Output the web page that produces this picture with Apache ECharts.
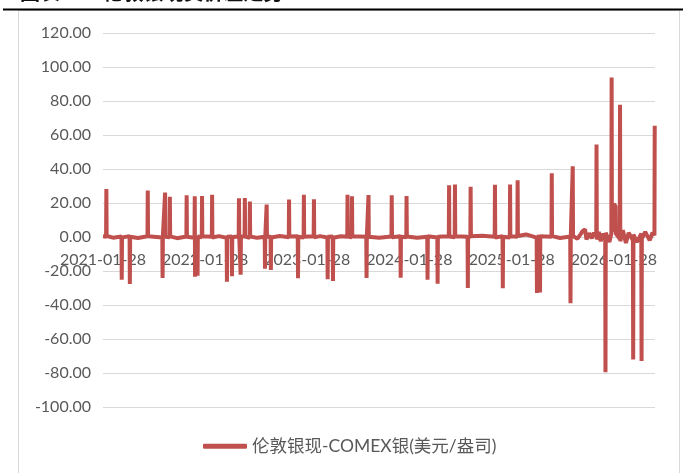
<!DOCTYPE html>
<html lang="zh">
<head>
    <meta charset="UTF-8">
    <title>伦敦银现-COMEX银</title>
    <script src="https://cdn.jsdelivr.net/npm/echarts@6/dist/echarts.min.js"></script>
    <style>
        html, body { margin: 0; padding: 0; background: #ffffff; }
        #chart { width: 683px; height: 473px; }
    </style>
</head>
<body>
    <div id="chart"></div>

    <script>
        // spread values, one array per year: [date, USD/oz]
        const spread2021 = [
            ['2021-01-28', 0.4], ['2021-02-08', 0.2], ['2021-02-09', 28.2], ['2021-02-10', 0.6],
            ['2021-03-05', -0.4], ['2021-04-04', 0.3], ['2021-04-05', -25.2], ['2021-04-06', -0.3],
            ['2021-05-03', 0.5], ['2021-05-04', -27.6], ['2021-05-05', 0.2], ['2021-06-02', -0.6],
            ['2021-07-06', 0.4], ['2021-07-07', 27.4], ['2021-07-08', 0.5], ['2021-08-28', -0.3],
            ['2021-08-29', -24.1], ['2021-08-30', 0.2], ['2021-09-06', 0.6], ['2021-09-07', 26.1],
            ['2021-09-08', 0.1], ['2021-09-23', -0.2], ['2021-09-24', 23.6], ['2021-09-25', 0.4],
            ['2021-10-20', -0.7], ['2021-11-22', 0.3], ['2021-11-23', 24.6], ['2021-11-24', 0.2],
            ['2021-12-21', -0.4], ['2021-12-22', 24.0], ['2021-12-23', -23.4], ['2021-12-24', 0.5],
            ['2021-12-31', 0.2]
        ];
        const spread2022 = [
            ['2022-01-01', -22.8], ['2022-01-02', 0.3], ['2022-01-16', -0.2], ['2022-01-17', 24.1],
            ['2022-01-18', 0.4], ['2022-02-21', 0.2], ['2022-02-22', 24.8], ['2022-02-23', -0.3],
            ['2022-03-18', 0.5], ['2022-04-15', -0.4], ['2022-04-16', -26.3], ['2022-04-17', 0.2],
            ['2022-05-03', 0.3], ['2022-05-04', -23.1], ['2022-05-05', -0.2], ['2022-05-28', 0.4],
            ['2022-05-29', 22.8], ['2022-05-30', 0.1], ['2022-06-03', -0.3], ['2022-06-04', -22.2],
            ['2022-06-05', 0.3], ['2022-06-18', 0.5], ['2022-06-19', 22.9], ['2022-06-20', 0.2],
            ['2022-07-06', -0.4], ['2022-07-07', 20.8], ['2022-07-08', 0.3], ['2022-08-02', -0.5],
            ['2022-08-29', 0.2], ['2022-08-30', -18.6], ['2022-08-31', 0.4], ['2022-09-04', -0.2],
            ['2022-09-05', 19.1], ['2022-09-06', 0.3], ['2022-09-19', 0.1], ['2022-09-20', -19.4],
            ['2022-09-21', -0.3], ['2022-10-22', 0.6], ['2022-11-23', -0.2], ['2022-11-24', 22.1],
            ['2022-11-25', 0.3], ['2022-12-25', 0.4], ['2022-12-26', -24.2], ['2022-12-27', 0.1]
        ];
        const spread2023 = [
            ['2023-01-15', -0.3], ['2023-01-16', 24.9], ['2023-01-17', 0.2], ['2023-02-20', 0.4],
            ['2023-02-21', 22.2], ['2023-02-22', -0.2], ['2023-03-15', 0.5], ['2023-04-10', -0.3],
            ['2023-04-11', -24.8], ['2023-04-12', 0.2], ['2023-04-29', 0.3], ['2023-04-30', -25.9],
            ['2023-05-01', -0.4], ['2023-05-28', 0.4], ['2023-06-20', 0.1], ['2023-06-21', 24.8],
            ['2023-06-22', 0.3], ['2023-07-06', -0.2], ['2023-07-07', 24.0], ['2023-07-08', 0.4],
            ['2023-08-27', 0.2], ['2023-08-28', -24.1], ['2023-08-29', 0.3], ['2023-09-03', -0.1],
            ['2023-09-04', 24.7], ['2023-09-05', 0.2], ['2023-10-12', -0.5], ['2023-11-25', 0.3],
            ['2023-11-26', 24.5], ['2023-11-27', -0.2], ['2023-12-27', 0.4], ['2023-12-28', -24.0],
            ['2023-12-29', 0.1]
        ];
        const spread2024 = [
            ['2024-01-17', -0.2], ['2024-01-18', 24.1], ['2024-01-19', 0.3], ['2024-02-25', -0.4],
            ['2024-04-01', 0.2], ['2024-04-02', -25.1], ['2024-04-03', 0.4], ['2024-05-07', -0.3],
            ['2024-05-08', -27.5], ['2024-05-09', 0.2], ['2024-06-17', 0.5], ['2024-06-18', 30.4],
            ['2024-06-19', 0.3], ['2024-07-08', -0.2], ['2024-07-09', 30.9], ['2024-07-10', 0.4],
            ['2024-08-23', 0.1], ['2024-08-24', -30.0], ['2024-08-25', 0.3], ['2024-09-02', -0.3],
            ['2024-09-03', 29.6], ['2024-09-04', 0.5], ['2024-10-15', 0.8], ['2024-11-28', 0.2],
            ['2024-11-29', 30.8], ['2024-11-30', -0.3], ['2024-12-26', 0.4], ['2024-12-27', -30.1],
            ['2024-12-28', 0.2]
        ];
        const spread2025 = [
            ['2025-01-21', -0.3], ['2025-01-22', 30.9], ['2025-01-23', 0.5], ['2025-02-17', 0.2],
            ['2025-02-18', 33.4], ['2025-02-19', 0.6], ['2025-03-20', 1.5], ['2025-04-27', -0.4],
            ['2025-04-28', -33.0], ['2025-04-29', 0.2], ['2025-05-08', 0.3], ['2025-05-09', -32.6],
            ['2025-05-10', 0.4], ['2025-06-19', 0.2], ['2025-06-20', 37.5], ['2025-06-21', 0.5],
            ['2025-07-20', -0.6], ['2025-08-25', 0.3], ['2025-08-26', -39.0], ['2025-08-27', 0.4],
            ['2025-09-02', 0.2], ['2025-09-03', 41.6], ['2025-09-04', 0.6], ['2025-09-20', -1.0],
            ['2025-10-02', 1.8], ['2025-10-08', 3.5], ['2025-10-17', 4.5], ['2025-10-22', -1.5],
            ['2025-11-01', 2.2], ['2025-11-10', -0.8], ['2025-11-18', 2.5], ['2025-11-26', 0.5],
            ['2025-11-27', 54.4], ['2025-11-28', -1.5], ['2025-12-05', 3.0], ['2025-12-12', -2.5],
            ['2025-12-18', 2.0], ['2025-12-28', -1.8], ['2025-12-29', -79.5], ['2025-12-30', 2.5]
        ];
        const spread2026 = [
            ['2026-01-05', 3.5], ['2026-01-12', -3.0], ['2026-01-19', 2.0], ['2026-01-20', 93.8],
            ['2026-01-21', 3.0], ['2026-01-28', 19.5], ['2026-02-03', 18.0], ['2026-02-04', 2.0],
            ['2026-02-18', -1.0], ['2026-02-19', 77.8], ['2026-02-20', -2.5], ['2026-03-01', 4.0],
            ['2026-03-12', -3.5], ['2026-03-22', 2.5], ['2026-04-06', -2.0], ['2026-04-07', -72.0],
            ['2026-04-08', 1.5], ['2026-04-20', -3.0], ['2026-05-06', 2.0], ['2026-05-07', -73.0],
            ['2026-05-08', -1.0], ['2026-05-20', 3.0], ['2026-06-05', -2.0], ['2026-06-15', 2.5],
            ['2026-06-22', 1.0], ['2026-06-23', 65.5]
        ];
        const xTicks = ['2021-01-28', '2022-01-28', '2023-01-28', '2024-01-28', '2025-01-28', '2026-01-28'];
        const xRange = ['2021-01-28', '2026-06-24'];
        const yMin = -100, yMax = 120, yStep = 20;
        const seriesName = '伦敦银现-COMEX银(美元/盎司)';

        // dates become UTC timestamps on a value axis
        const toTime = s => Date.parse(s);
        const spread = [].concat(spread2021, spread2022, spread2023, spread2024, spread2025, spread2026)
            .map(p => [toTime(p[0]), p[1]]);

        const textColor = '#595959';
        const gridColor = '#d9d9d9';
        const font = 'Lato, "Noto Sans CJK SC", sans-serif';

        const W = 683, H = 473;
        const grid = { left: 103, right: 28, top: 33, bottom: 66 };
        // lift the date labels up to the zero line
        const plotH = H - grid.top - grid.bottom;
        const zeroOffset = -plotH * (0 - yMin) / (yMax - yMin);

        const chart = echarts.init(document.getElementById('chart'));

        const pad = n => (n < 10 ? '0' : '') + n;
        const fmtDate = v => {
            const d = new Date(v);
            return d.getUTCFullYear() + '-' + pad(d.getUTCMonth() + 1) + '-' + pad(d.getUTCDate());
        };

        chart.setOption({
            animation: false,
            backgroundColor: '#ffffff',
            graphic: [
                {
                    type: 'rect',
                    silent: true,
                    shape: { x: 18.5, y: 10.5, width: 661, height: 470 },
                    style: { fill: 'none', stroke: gridColor, lineWidth: 1 }
                },
                {
                    type: 'line',
                    silent: true,
                    shape: { x1: 3, y1: 9.5, x2: W, y2: 9.5 },
                    style: { stroke: '#000000', lineWidth: 2 }
                },
                {
                    type: 'text',
                    silent: true,
                    left: 20,
                    top: -18,
                    style: {
                        text: '图表17：伦敦银现货价差走势',
                        font: 'bold 20px "Noto Sans CJK SC", sans-serif',
                        fill: '#111111'
                    }
                }
            ],
            grid: grid,
            legend: {
                bottom: 13,
                left: 198,
                icon: 'roundRect',
                itemWidth: 44,
                itemHeight: 5,
                itemGap: 8,
                textStyle: { color: textColor, fontSize: 17.5, fontFamily: font },
                data: [seriesName]
            },
            xAxis: {
                type: 'value',
                min: toTime(xRange[0]),
                max: toTime(xRange[1]),
                offset: zeroOffset,
                axisLine: { show: false, onZero: false },
                axisTick: { show: false },
                splitLine: { show: false },
                axisLabel: {
                    customValues: xTicks.map(toTime),
                    color: textColor,
                    fontSize: 16,
                    fontFamily: font,
                    margin: 15,
                    hideOverlap: false,
                    formatter: fmtDate
                }
            },
            yAxis: {
                type: 'value',
                min: yMin,
                max: yMax,
                interval: yStep,
                axisLine: { show: false },
                axisTick: { show: false },
                splitLine: { lineStyle: { color: gridColor, width: 1 } },
                axisLabel: {
                    color: textColor,
                    fontSize: 16,
                    fontFamily: font,
                    margin: 12,
                    formatter: v => v.toFixed(2)
                }
            },
            series: [{
                name: seriesName,
                type: 'line',
                data: spread,
                showSymbol: false,
                symbol: 'none',
                sampling: null,
                z: 5,
                itemStyle: { color: '#C0504D' },
                lineStyle: { color: '#C0504D', width: 4 }
            }]
        });
    </script>
</body>
</html>
